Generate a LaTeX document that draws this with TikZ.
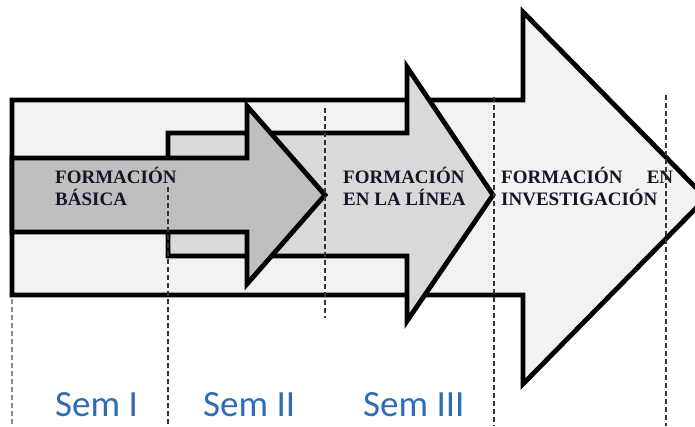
\documentclass[tikz,border=0pt]{standalone}
\usepackage{fontspec}
\setmainfont{Liberation Serif}
\newfontfamily\semfont{Carlito}
\definecolor{fillL}{HTML}{F2F2F2}
\definecolor{fillM}{HTML}{D9D9D9}
\definecolor{fillS}{HTML}{BFBFBF}
\definecolor{semblue}{HTML}{2E6DB4}
\definecolor{txtdark}{HTML}{14142A}
\tikzset{
  arrowshape/.style={draw=black, line width=4.8pt, line join=miter},
  guide/.style={draw=black!80, line width=1.1pt, dash pattern=on 4.5pt off 3.5pt},
  guidegray/.style={draw=black!45, line width=1.1pt, dash pattern=on 4.5pt off 3.5pt},
  boldtxt/.style={font=\fontsize{19}{22}\selectfont\bfseries, text=txtdark, inner sep=0pt, anchor=base west},
  semtxt/.style={font=\semfont\fontsize{37}{40}\selectfont, text=semblue, inner sep=0pt, anchor=base west}
}
\begin{document}
\begin{tikzpicture}[x=1pt,y=-1pt]
\useasboundingbox (0,0) rectangle (695,426);
\begin{scope}
\clip (0,0) rectangle (695,426);
% large arrow
\draw[arrowshape, fill=fillL] (12,100) -- (523,100) -- (523,12) -- (706,198) -- (523,384) -- (523,295) -- (12,295) -- cycle;
% middle arrow
\draw[arrowshape, fill=fillM] (168,133) -- (407,133) -- (407,67) -- (493,195) -- (407,321) -- (407,256) -- (168,256) -- cycle;
% small arrow
\draw[arrowshape, fill=fillS] (12,158) -- (247,158) -- (247,106) -- (325,195) -- (247,284) -- (247,232) -- (12,232) -- cycle;
\end{scope}
% guides
\coordinate (g0a) at (12,299); \coordinate (g0b) at (12,426);
\coordinate (g1a) at (168,187); \coordinate (g1b) at (168,426);
\coordinate (g2a) at (325,108); \coordinate (g2b) at (325,318);
\coordinate (g3a) at (494,97); \coordinate (g3b) at (494,426);
\coordinate (g4a) at (666,95); \coordinate (g4b) at (666,426);
\draw[guidegray] (g0a) -- (g0b);
\draw[guide] (g1a) -- (g1b);
\draw[guide] (g2a) -- (g2b);
\draw[guide] (g3a) -- (g3b);
\draw[guide] (g4a) -- (g4b);
% texts
\node[boldtxt] (t1a) at (55,183) {FORMACIÓN};
\node[boldtxt] (t1b) at (55,205) {BÁSICA};
\node[boldtxt] (t2a) at (343,183) {FORMACIÓN};
\node[boldtxt] (t2b) at (343,205) {EN LA LÍNEA};
\node[boldtxt] (t3a) at (501,183) {\hbox to 172pt{FORMACIÓN\hfill EN}};
\node[boldtxt] (t3b) at (501,205) {INVESTIGACIÓN};
\node[semtxt] (s1) at (55,416) {Sem I};
\node[semtxt] (s2) at (203,416) {Sem II};
\node[semtxt] (s3) at (363,416) {Sem III};
\end{tikzpicture}
\end{document}
